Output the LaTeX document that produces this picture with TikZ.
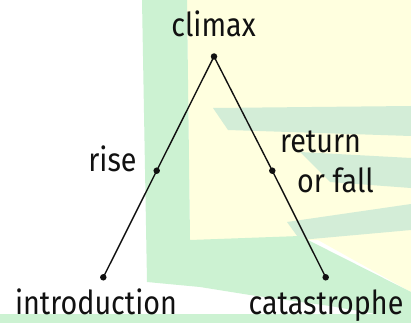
\documentclass[tikz,border=0pt]{standalone}
\usepackage{fontspec}
\setmainfont{Fira Sans}[FakeStretch=0.87]
\usetikzlibrary{positioning}
\definecolor{plInk}{HTML}{111111}
\definecolor{plGreen}{HTML}{CCF2D2}
\definecolor{plCream}{HTML}{FFFFDF}
\definecolor{plStripe}{HTML}{D3EDD7}
\tikzset{
  pl canvas/.style={fill=white},
  pl wash/.style={fill=plGreen},
  pl cream/.style={fill=plCream},
  pl band/.style={fill=plStripe},
  pl line/.style={draw=plInk, line width=1.4pt},
  pl dot/.style={circle, fill=plInk, inner sep=0pt, minimum size=6.5pt},
  pl label/.style={font=\fontsize{33}{38}\selectfont, text=plInk,
    anchor=base, inner sep=0pt}
}
\begin{document}
\begin{tikzpicture}[x=1pt,y=-1pt]
  % backdrop
  \path[pl canvas, use as bounding box] (0,0) rectangle (411,323);
  \path[pl cream] (187,0) -- (411,0) -- (411,292) -- (318,240) -- (190,240) -- cycle;
  \path[pl band] (213,108) -- (411,106) -- (411,136) -- (228,130) -- cycle;
  \path[pl band] (300,152) -- (411,158) -- (411,188) -- (330,182) -- cycle;
  \path[pl band] (287,222) -- (411,204) -- (411,230) -- (300,240) -- cycle;
  \path[pl wash] (142,0) -- (187,0) -- (190,240) -- (300,236) -- (411,292)
    -- (411,320) -- (330,306) -- (250,295) -- (200,287) -- (147,282) -- cycle;
  \path[pl wash] (0,314) rectangle (411,323);

  % the arc of the plot
  \node[pl dot] (climax) at (214,56.5) {};
  \node[pl dot] (rise) at (156.7,170.7) {};
  \node[pl dot] (fall) at (272.3,170.7) {};
  \node[pl dot] (intro) at (103.3,277.3) {};
  \node[pl dot] (cata) at (325.7,277.3) {};
  \draw[pl line] (intro.center) -- (rise.center) -- (climax.center)
    -- (fall.center) -- (cata.center);

  \node[pl label] (climaxtext) at (213.5,37) {climax};
  \node[pl label] (risetext) at (112.5,171) {rise};
  \node[pl label] (returntext) at (320.5,152) {return};
  \node[pl label] (orfalltext) at (335.5,192) {or fall};
  \node[pl label] (introtext) at (96,314) {introduction};
  \node[pl label] (catatext) at (326,314) {catastrophe};
\end{tikzpicture}
\end{document}
